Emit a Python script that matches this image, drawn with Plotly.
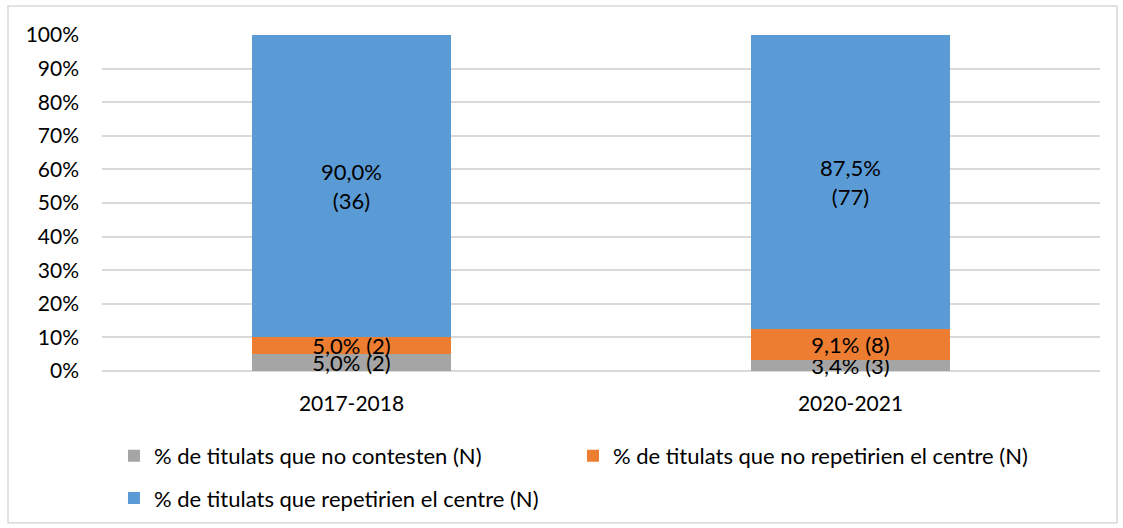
import plotly.graph_objects as go

categories = ["2017-2018", "2020-2021"]
series_names = [
    "% de titulats que no contesten (N)",
    "% de titulats que no repetirien el centre (N)",
    "% de titulats que repetirien el centre (N)",
]
no_contesten_pct = [5.0, 3.4]
no_contesten_n = [2, 3]
no_repetirien_pct = [5.0, 9.1]
no_repetirien_n = [2, 8]
repetirien_pct = [90.0, 87.5]
repetirien_n = [36, 77]
tick_vals = [0, 10, 20, 30, 40, 50, 60, 70, 80, 90, 100]
tick_text = [f"{v}%" for v in tick_vals]

colors = ["#A5A5A5", "#ED7D31", "#5B9BD5"]
FONT = "Lato"


def fmt(p):
    return f"{p:.1f}".replace(".", ",") + "%"


fig = go.Figure()
series = [
    (no_contesten_pct, no_contesten_n, " ", "legend"),
    (no_repetirien_pct, no_repetirien_n, " ", "legend"),
    (repetirien_pct, repetirien_n, "<br>", "legend2"),
]
for (pct, n, sep, lg), name, col in zip(series, series_names, colors):
    fig.add_trace(go.Bar(
        x=categories, y=pct, name=name,
        marker=dict(color=col, line=dict(width=0)),
        text=[f"{fmt(p)}{sep}({k})" for p, k in zip(pct, n)],
        textposition="inside", insidetextanchor="middle",
        constraintext="none", cliponaxis=False,
        textfont=dict(family=FONT, size=22, color="#000000"),
        legend=lg,
    ))

fig.update_layout(
    barmode="stack",
    bargap=0.6,
    width=1123, height=528,
    margin=dict(l=102, r=23, t=35, b=157, autoexpand=False),
    paper_bgcolor="white", plot_bgcolor="white",
    font=dict(family=FONT, size=21, color="#000000"),
    showlegend=True,
    legend=dict(
        orientation="h", x=0.012, y=-0.19, xanchor="left", yanchor="top",
        entrywidth=414, entrywidthmode="pixels",
        font=dict(family=FONT, size=22, color="#000000"),
        traceorder="normal", bgcolor="rgba(0,0,0,0)",
    ),
    legend2=dict(
        orientation="h", x=0.012, y=-0.316, xanchor="left", yanchor="top",
        font=dict(family=FONT, size=22, color="#000000"),
        bgcolor="rgba(0,0,0,0)",
    ),
    xaxis=dict(showgrid=False, showline=False, ticks="",
               ticklabelstandoff=18,
               tickfont=dict(family=FONT, size=21, color="#000000")),
    yaxis=dict(range=[0, 100], tickvals=tick_vals, ticktext=tick_text,
               showgrid=True, gridcolor="#D9D9D9", gridwidth=1.5,
               zeroline=True, zerolinecolor="#D9D9D9", zerolinewidth=1.5,
               showline=False, ticks="", ticklabelstandoff=22,
               tickfont=dict(family=FONT, size=21, color="#000000")),
    shapes=[dict(type="rect", xref="paper", yref="paper",
                 x0=-0.0942, x1=1.017, y0=-0.452, y1=1.086,
                 line=dict(color="#D9D9D9", width=1.5), layer="below")],
)

fig.write_html("out.html", config={"displayModeBar": False},
               post_script="document.body.style.margin='0';document.body.style.overflow='hidden';")
